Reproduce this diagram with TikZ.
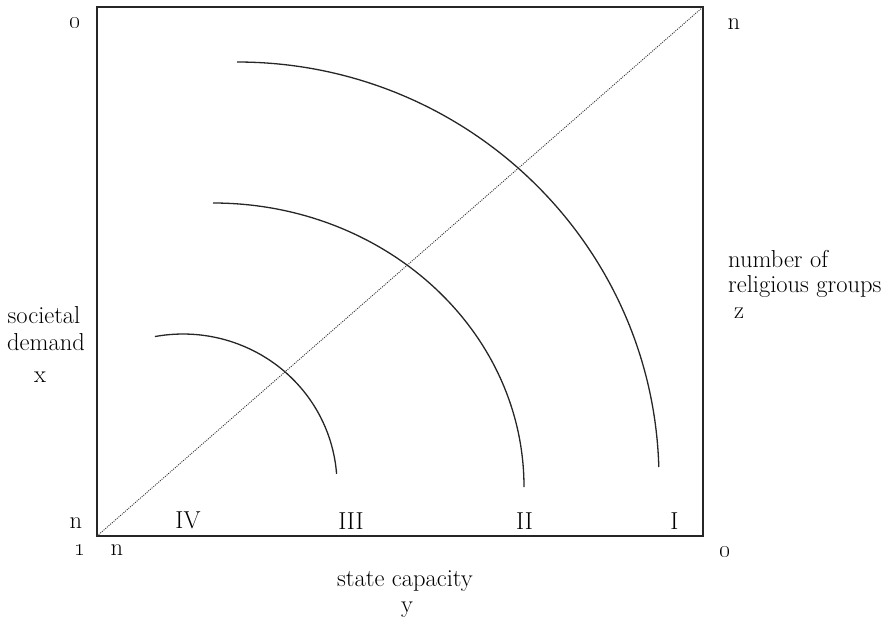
\documentclass[tikz,border=0pt]{standalone}
\begin{document}
\begin{tikzpicture}[x=1pt,y=-1pt,
  lbl/.style={inner sep=0pt, anchor=base, font=\fontsize{24.5}{28}\selectfont},
  curve/.style={line width=1.3pt, black!85},
  frame/.style={line width=1.4pt, black!85},
  diag/.style={line width=0.9pt, black!80, dash pattern=on 1pt off 1.2pt}]
\useasboundingbox (0,0) rectangle (892,622);
% frame and diagonal
\coordinate (bl) at (97,536);
\coordinate (tr) at (703,7);
\draw[frame] (bl) rectangle (tr);
\draw[diag] (bl) -- (tr);
% arcs
\coordinate (c1) at (237,479);
\coordinate (c2) at (213,487);
\coordinate (c3) at (183,485);
\draw[curve] ([shift={(-90:422 and 417)}]c1) arc[start angle=-90, end angle=-1.65, x radius=422, y radius=417];
\draw[curve] ([shift={(-90:311 and 284)}]c2) arc[start angle=-90, end angle=0, x radius=311, y radius=284];
\draw[curve] ([shift={(-100.5:154 and 151)}]c3) arc[start angle=-100.5, end angle=-4.2, x radius=154, y radius=151];
% roman numerals
\node[lbl] (r4) at (188,528) {IV};
\node[lbl] (r3) at (351,529) {III};
\node[lbl] (r2) at (524.5,529) {II};
\node[lbl] (r1) at (674.5,529) {I};
% corner labels
\node[lbl] (tl) at (75,28) {\oldstylenums{0}};
\node[lbl] (trn) at (734,29) {n};
\node[lbl] (ln) at (76,528) {n};
\node[lbl] (one) at (80,555) {\oldstylenums{1}};
\node[lbl] (bn) at (117,555) {n};
\node[lbl] (br) at (725,557) {\oldstylenums{0}};
% axis labels
\node[lbl] (s1) at (44,323) {societal};
\node[lbl] (s2) at (46,350) {demand};
\node[lbl] (s3) at (40,382) {x};
\node[lbl, anchor=base west] (n1) at (728,267) {number of};
\node[lbl, anchor=base west] (n2) at (728,292) {religious groups};
\node[lbl] (n3) at (739,318) {z};
\node[lbl] (sc) at (405,586) {state capacity};
\node[lbl] (sy) at (407,612) {y};
\end{tikzpicture}
\end{document}
